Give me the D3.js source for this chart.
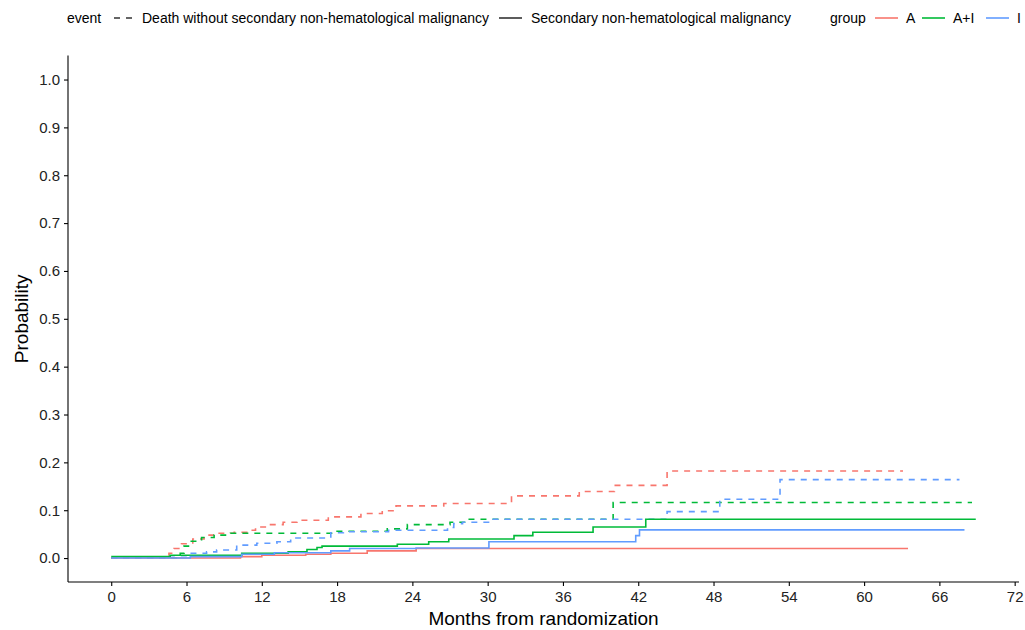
<!DOCTYPE html>
<html><head><meta charset="utf-8">
<script src="https://cdn.jsdelivr.net/npm/d3@7"></script>
<style>
body{margin:0;background:#fff;}
text{font-family:"Liberation Sans",Arial,Helvetica,sans-serif;}
</style></head>
<body><svg id="chart" width="1025" height="630"></svg>
<script>
// ---- data (months, cumulative incidence) ----
const groups = ["A", "A+I", "I"];
const groupColors = ["#F8766D", "#00BA38", "#619CFF"];
const events = ["Death without secondary non-hematological malignancy", "Secondary non-hematological malignancy"];
const xTicks = [0, 6, 12, 18, 24, 30, 36, 42, 48, 54, 60, 66, 72];
const yTicks = [0, 0.1, 0.2, 0.3, 0.4, 0.5, 0.6, 0.7, 0.8, 0.9, 1.0];

const deathA = [[0,0],[4.6,0.01],[5.0,0.02],[5.6,0.03],[6.5,0.04],[7.4,0.048],[8.5,0.052],[9.8,0.054],[10.8,0.058],[11.5,0.065],[12.5,0.07],[13.7,0.075],[14.8,0.079],[17.3,0.086],[19.9,0.093],[21.6,0.099],[22.7,0.109],[26.5,0.114],[31.9,0.13],[37.3,0.139],[40.1,0.152],[44.3,0.182],[63.1,0.182]];
const deathAI = [[0,0],[5.5,0.01],[5.8,0.025],[6.3,0.035],[7.2,0.043],[8.2,0.048],[9.5,0.052],[18.0,0.056],[22.0,0.061],[23.6,0.070],[27.0,0.075],[28.3,0.081],[40.0,0.116],[68.6,0.116]];
const deathI = [[0,0],[4.7,0.005],[6.3,0.01],[7.6,0.013],[8.4,0.017],[10.0,0.027],[11.6,0.031],[13.2,0.034],[14.3,0.042],[17.5,0.053],[18.5,0.055],[22.1,0.058],[26.8,0.064],[27.3,0.072],[28.0,0.075],[30.2,0.081],[44.3,0.097],[48.5,0.123],[53.3,0.164],[67.6,0.164]];
const snhmA = [[0,0],[10.3,0.003],[12.0,0.006],[15.5,0.008],[17.5,0.01],[20.4,0.015],[24.3,0.02],[63.5,0.02]];
const snhmAI = [[0,0.003],[4.7,0.006],[10.4,0.01],[14.1,0.013],[15.6,0.018],[16.4,0.022],[16.8,0.025],[22.8,0.029],[25.3,0.034],[26.9,0.04],[32.1,0.047],[33.6,0.054],[38.4,0.065],[42.6,0.081],[68.9,0.081]];
const snhmI = [[0,0],[6.3,0.003],[10.4,0.008],[13.0,0.011],[17.5,0.015],[19.0,0.02],[24.3,0.021],[30.1,0.034],[41.8,0.047],[42.1,0.059],[68.0,0.059]];

const series = [
  {data: deathA, group: 0, event: 0},
  {data: deathAI, group: 1, event: 0},
  {data: deathI, group: 2, event: 0},
  {data: snhmA, group: 0, event: 1},
  {data: snhmAI, group: 1, event: 1},
  {data: snhmI, group: 2, event: 1}
];

// ---- layout ----
const svg = d3.select("#chart");
const panel = {left: 68, right: 1019, top: 55.6, bottom: 582};
const x = d3.scaleLinear().domain([-3.445, 72.345]).range([panel.left, panel.right]);
const y = d3.scaleLinear().domain([-0.05, 1.05]).range([panel.bottom, panel.top]);
const dashes = ["6,6", null];

const line = d3.line().x(d => x(d[0])).y(d => y(d[1])).curve(d3.curveStepAfter);

const gLines = svg.append("g");
series.forEach(s => {
  gLines.append("path")
    .attr("d", line(s.data))
    .attr("fill", "none")
    .attr("stroke", groupColors[s.group])
    .attr("stroke-width", 1.6)
    .attr("stroke-dasharray", dashes[s.event]);
});

// axes
const xAxis = d3.axisBottom(x).tickValues(xTicks).tickSize(4).tickPadding(5).tickSizeOuter(0);
const yAxis = d3.axisLeft(y).tickValues(yTicks).tickFormat(d3.format(".1f")).tickSize(4).tickPadding(4).tickSizeOuter(0);

const gx = svg.append("g").attr("transform", `translate(0,${panel.bottom})`).call(xAxis);
const gy = svg.append("g").attr("transform", `translate(${panel.left},0)`).call(yAxis);
[gx, gy].forEach(g => {
  g.select(".domain").attr("stroke", "#000").attr("stroke-width", 1.1);
  g.selectAll(".tick line").attr("stroke", "#000").attr("stroke-width", 1.1);
  g.selectAll(".tick text").attr("fill", "#222").style("font-size", "15px");
});
gx.select(".domain").attr("d", `M${panel.left},0H${panel.right}`);
gy.select(".domain").attr("d", `M0,${panel.bottom}V${panel.top}`);

svg.append("text").attr("x", (panel.left + panel.right) / 2).attr("y", 625)
  .attr("text-anchor", "middle").style("font-size", "19px").attr("fill", "#000")
  .text("Months from randomization");
svg.append("text").attr("transform", `translate(28,${(panel.top + panel.bottom) / 2}) rotate(-90)`)
  .attr("text-anchor", "middle").style("font-size", "19px").attr("fill", "#000")
  .text("Probability");

// legend
const ly = 18;
const lg = svg.append("g").style("font-size", "14px");
lg.append("text").attr("x", 67).attr("y", ly + 5).text("event");
const evKeys = [{x1: 114, x2: 132, tx: 142}, {x1: 499, x2: 522, tx: 531}];
events.forEach((e, i) => {
  lg.append("line").attr("x1", evKeys[i].x1).attr("x2", evKeys[i].x2).attr("y1", ly).attr("y2", ly)
    .attr("stroke", "#333").attr("stroke-width", 1.6).attr("stroke-dasharray", i === 0 ? "6,6" : null);
  lg.append("text").attr("x", evKeys[i].tx).attr("y", ly + 5).text(e);
});
lg.append("text").attr("x", 830).attr("y", ly + 5).text("group");
const grKeys = [{x1: 875, x2: 898, tx: 906}, {x1: 922, x2: 945, tx: 953}, {x1: 986, x2: 1009, tx: 1017}];
groups.forEach((gname, i) => {
  lg.append("line").attr("x1", grKeys[i].x1).attr("x2", grKeys[i].x2).attr("y1", ly).attr("y2", ly)
    .attr("stroke", groupColors[i]).attr("stroke-width", 1.6);
  lg.append("text").attr("x", grKeys[i].tx).attr("y", ly + 5).text(gname);
});
</script></body></html>
